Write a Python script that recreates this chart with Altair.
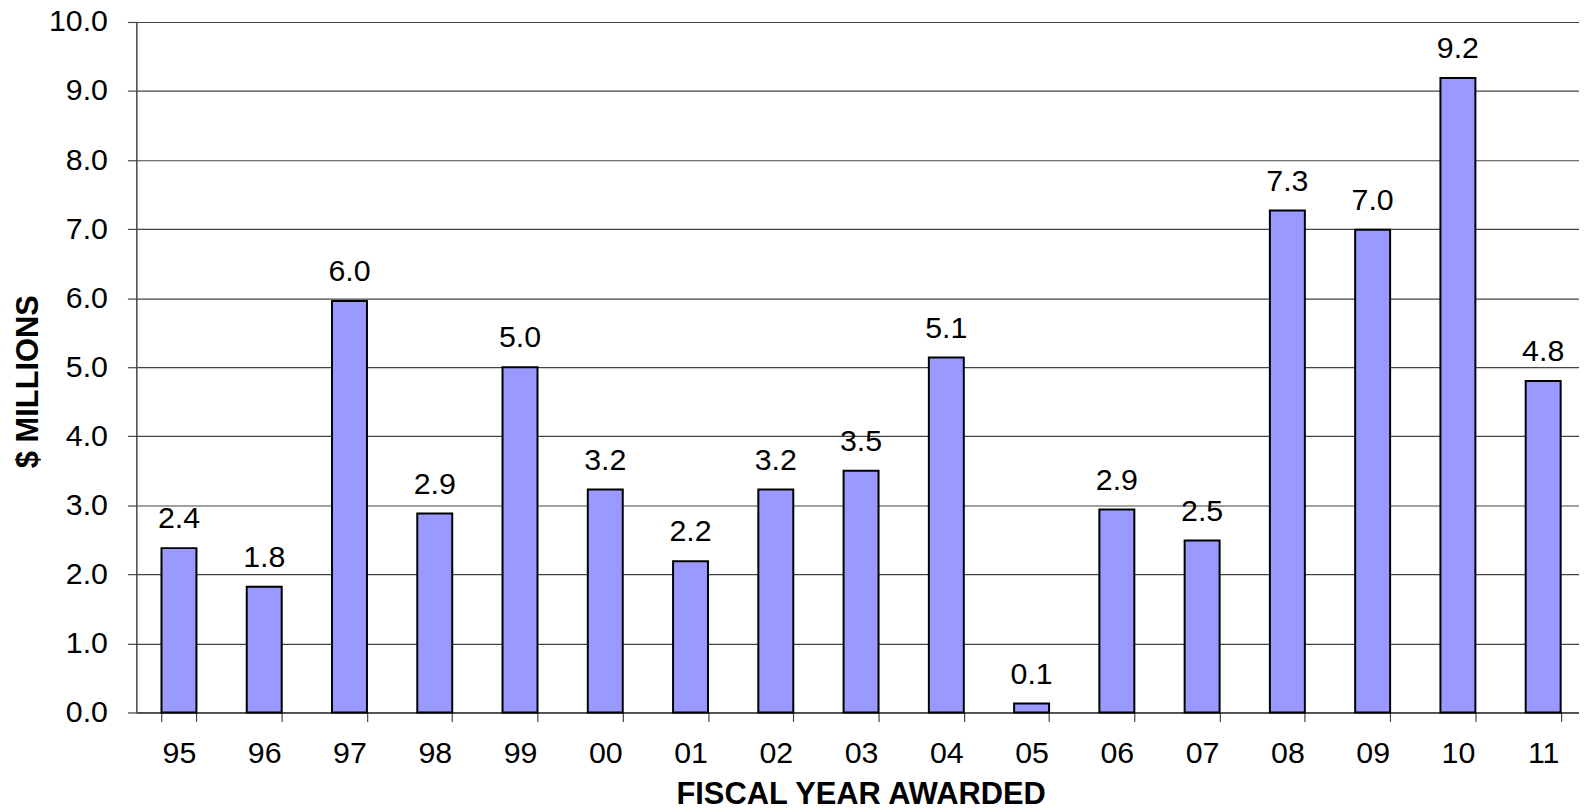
import altair as alt
import pandas as pd

years = ["95", "96", "97", "98", "99", "00", "01", "02", "03", "04",
         "05", "06", "07", "08", "09", "10", "11"]
values = [2.38, 1.82, 5.96, 2.88, 5.00, 3.23, 2.19, 3.23, 3.50, 5.14,
          0.13, 2.94, 2.49, 7.27, 6.99, 9.19, 4.80]
y_ticks = [0, 1, 2, 3, 4, 5, 6, 7, 8, 9, 10]

df = pd.DataFrame({"year": years, "value": values})

FONT = "Liberation Sans"
LINE = "#444444"
LABEL_SIZE = 30.5
TITLE_SIZE = 31

x_enc = alt.X(
    "year:N",
    sort=years,
    scale=alt.Scale(paddingInner=0.59, paddingOuter=0.255, align=0.578),
    axis=alt.Axis(
        title="FISCAL YEAR AWARDED",
        labelAngle=0,
        tickBand="extent",
        tickSize=9,
        tickColor=LINE,
        tickWidth=1.2,
        domainColor=LINE,
        domainWidth=1.5,
        labelPadding=17.5,
        labelFontSize=LABEL_SIZE,
        labelFont=FONT,
        labelColor="black",
        titleFontSize=TITLE_SIZE,
        titleFont=FONT,
        titleFontWeight="bold",
        titleColor="black",
        titleBaseline="alphabetic",
        titleX=728,
        titleY=91.5,
        grid=False,
    ),
)

y_enc = alt.Y(
    "value:Q",
    scale=alt.Scale(domain=[0, 10], nice=False),
    axis=alt.Axis(
        title="$ MILLIONS",
        values=y_ticks,
        format=".1f",
        tickSize=9,
        tickColor=LINE,
        tickWidth=1.2,
        domainColor=LINE,
        domainWidth=1.5,
        labelPadding=20,
        labelFontSize=LABEL_SIZE,
        labelFont=FONT,
        labelColor="black",
        grid=True,
        gridColor=LINE,
        gridWidth=1.2,
        titleFontSize=TITLE_SIZE,
        titleFont=FONT,
        titleFontWeight="bold",
        titleColor="black",
        titleAlign="center",
        titleBaseline="middle",
        titleX=-108,
        titleY=361,
    ),
)

base = alt.Chart(df)

bars = base.mark_bar(color="#9999FF", stroke="black", strokeWidth=2).encode(
    x=x_enc, y=y_enc
)

labels = base.mark_text(
    baseline="alphabetic", dy=-20, fontSize=LABEL_SIZE, font=FONT, color="black"
).encode(
    x=alt.X("year:N", sort=years),
    y=alt.Y("value:Q"),
    text=alt.Text("value:Q", format=".1f"),
)

chart = (
    alt.layer(bars, labels)
    .properties(
        width=1450,
        height=694,
        autosize=alt.AutoSizeParams(type="none"),
        padding={"left": 129, "top": 12, "right": 0, "bottom": 98},
    )
    .configure(font=FONT, background="white")
    .configure_view(strokeWidth=0)
)

chart.save("out.html", embed_options={"renderer": "svg", "actions": False})
